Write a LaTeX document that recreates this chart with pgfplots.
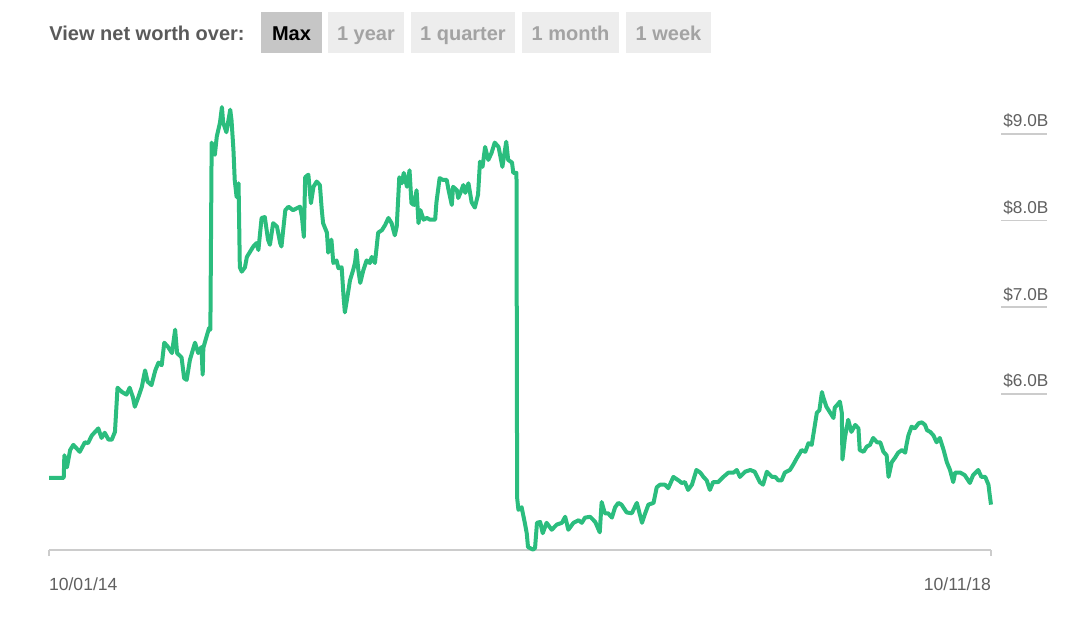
\documentclass[border=0pt]{standalone}
\usepackage{fontspec}
\setmainfont{Liberation Sans}
\usepackage{pgfplots}
\pgfplotsset{compat=1.18}
\definecolor{netgreen}{HTML}{2BBD7E}
\definecolor{axisgray}{HTML}{CCCCCC}
\definecolor{labelgray}{HTML}{606060}
\definecolor{headgray}{HTML}{5A5A5A}
\definecolor{btnsel}{HTML}{C6C6C6}
\definecolor{btnbg}{HTML}{EDEDED}
\definecolor{btntext}{HTML}{A3A3A3}

% button: left, right (pt), fill, text colour, label
\newcommand\btn[5]{%
  \fill[#3] (#1pt,288pt) rectangle (#2pt,308.5pt);
  \node[anchor=base, inner sep=0pt, text=#4,
        font=\fontsize{10}{12}\selectfont\bfseries] at ({(#1+#2)/2*1pt},294.5pt) {#5};}

\begin{document}
\begin{tikzpicture}
\path[use as bounding box] (0,0) rectangle (540pt,314.5pt);

\node[anchor=base west, inner sep=0pt, text=headgray,
      font=\fontsize{10}{12}\selectfont\bfseries] at (24.5pt,294.5pt) {View net worth over:};
\btn{130.5}{161}{btnsel}{black}{Max}
\btn{164}{202}{btnbg}{btntext}{1 year}
\btn{205.5}{257.5}{btnbg}{btntext}{1 quarter}
\btn{261}{309.5}{btnbg}{btntext}{1 month}
\btn{313}{355.5}{btnbg}{btntext}{1 week}

\begin{axis}[
  at={(24.5pt,39.5pt)}, anchor=south west,
  scale only axis, width=471pt, height=225pt,
  xmin=0, xmax=1471, ymin=4.196, ymax=9.392,
  axis x line*=bottom, axis y line*=right,
  x axis line style={axisgray, line width=0.8pt},
  y axis line style={draw=none},
  xtick={0,1471}, xticklabels={\rlap{10/01/14},\llap{10/11/18}},
  ytick={6,7,8,9}, yticklabels={\$6.0B,\$7.0B,\$8.0B,\$9.0B},
  tick align=outside, major tick length=3pt,
  xtick style={axisgray, line width=0.8pt},
  ytick style={draw=none},
  xticklabel style={anchor=base, inner sep=0pt, yshift=-17pt, font=\fontsize{8.8}{10}\selectfont},
  yticklabel style={anchor=base west, inner sep=0pt, xshift=3pt, yshift=3.5pt, font=\fontsize{8.6}{10}\selectfont},
  ticklabel style={text=labelgray},
  clip=false,
]
\pgfplotsinvokeforeach{6,7,8,9}{
  \draw[axisgray, line width=0.8pt] ([xshift=5pt]axis cs:1471,#1) -- ([xshift=28pt]axis cs:1471,#1);
}
\addplot[netgreen, line width=2pt, line join=round] coordinates {
(0,5.03) (23,5.03) (24,5.29) (28,5.15) (33,5.35) (38,5.41) (43,5.37) (48,5.33) (56,5.44) (61,5.43)
(67,5.52) (72,5.56) (77,5.60) (82,5.49) (87,5.55) (93,5.47) (98,5.47) (103,5.56) (107,6.07) (114,6.02)
(121,5.99) (126,6.07) (131,5.96) (134,5.85) (139,5.95) (145,6.08) (150,6.27) (154,6.14) (160,6.10) (166,6.27)
(171,6.36) (176,6.33) (180,6.59) (186,6.54) (192,6.47) (197,6.74) (200,6.47) (207,6.42) (211,6.18) (215,6.16)
(220,6.39) (228,6.59) (233,6.47) (238,6.54) (240,6.22) (241,6.53) (246,6.66) (250,6.76) (252,6.74) (254,8.90)
(259,8.76) (262,8.97) (267,9.13) (270,9.31) (272,9.13) (277,9.02) (283,9.28) (285,9.16) (288,8.82) (290,8.47)
(293,8.27) (296,8.43) (298,7.46) (301,7.41) (306,7.46) (309,7.58) (314,7.64) (319,7.70) (324,7.74) (327,7.66)
(332,8.03) (337,8.04) (342,7.78) (345,7.72) (350,7.97) (356,7.93) (361,7.74) (363,7.70) (369,8.12) (374,8.16)
(381,8.12) (389,8.15)
(392,8.16) (395,8.04) (398,7.81) (400,8.50) (405,8.53) (409,8.20) (413,8.39) (418,8.45) (423,8.41) (426,8.12)
(428,7.97) (434,7.86) (436,7.63) (441,7.78) (444,7.51) (449,7.54) (452,7.45) (457,7.46) (460,7.12) (462,6.94)
(466,7.12) (470,7.31) (475,7.43) (478,7.52) (480,7.66) (483,7.43) (486,7.28) (491,7.43) (496,7.54) (501,7.51)
(504,7.58) (509,7.51) (514,7.86) (520,7.89) (525,7.95) (530,8.03) (535,7.97) (540,7.83) (543,7.93) (547,8.50)
(551,8.43) (554,8.55) (559,8.39) (563,8.58) (566,8.20) (570,8.18) (574,8.35) (577,7.97) (580,8.12) (585,8.01)
(590,8.03) (595,8.01) (603,8.01) (605,8.21) (610,8.49) (615,8.47) (621,8.47) (624,8.35) (629,8.18) (631,8.39)
(637,8.35) (639,8.26) (643,8.33) (647,8.41) (650,8.32) (655,8.43) (660,8.21) (665,8.15) (670,8.30) (673,8.68)
(677,8.62) (681,8.85) (686,8.70) (691,8.78) (696,8.90) (702,8.85) (708,8.62) (714,8.91) (717,8.70) (723,8.67)
(725,8.55) (730,8.55) (731,4.80)
(733,4.66) (738,4.69) (743,4.51) (746,4.39) (748,4.23) (756,4.20) (759,4.22) (762,4.51) (767,4.52) (771,4.39)
(777,4.51) (785,4.43) (793,4.49) (801,4.51) (806,4.58) (811,4.43) (819,4.51) (827,4.54) (832,4.51) (837,4.57)
(845,4.58) (853,4.52) (860,4.40) (863,4.75) (868,4.62) (873,4.62) (879,4.57) (884,4.69) (889,4.74) (894,4.72)
(902,4.63) (910,4.62) (918,4.74) (926,4.51) (931,4.62) (936,4.72) (944,4.74) (949,4.92) (954,4.95) (962,4.95)
(967,4.91) (975,5.04) (983,5.00) (988,4.97) (993,4.98) (998,4.89) (1004,4.95) (1011,5.12) (1017,5.09) (1022,5.04)
(1027,5.00) (1032,4.89) (1037,4.98) (1045,4.98) (1053,5.04) (1061,5.09) (1069,5.09) (1074,5.12) (1079,5.04) (1087,5.10)
(1095,5.12) (1102,5.10) (1110,4.98) (1115,4.95) (1121,5.10) (1129,5.04) (1134,5.04) (1139,5.00) (1144,5.00) (1149,5.09)
(1157,5.12) (1162,5.18) (1168,5.26) (1173,5.32)
(1175,5.35) (1181,5.33) (1186,5.43) (1191,5.41) (1196,5.64) (1199,5.78) (1203,5.81) (1207,6.02) (1209,5.96) (1214,5.85)
(1220,5.78) (1225,5.72) (1227,5.84) (1233,5.89) (1235,5.91) (1238,5.78) (1239,5.24) (1243,5.50) (1248,5.70) (1253,5.56)
(1259,5.64) (1264,5.60) (1266,5.35) (1272,5.33) (1277,5.39) (1282,5.41) (1287,5.49) (1293,5.44) (1298,5.44) (1303,5.33)
(1308,5.29) (1311,5.04) (1316,5.21) (1321,5.26) (1326,5.32) (1332,5.35) (1337,5.32) (1339,5.41) (1342,5.52) (1347,5.62)
(1352,5.60) (1358,5.66) (1363,5.67) (1368,5.64) (1371,5.58) (1376,5.56) (1381,5.52) (1386,5.44) (1391,5.49) (1397,5.35)
(1402,5.21) (1407,5.12) (1412,4.98) (1415,5.09) (1423,5.09) (1430,5.06) (1438,4.97) (1443,5.06) (1451,5.12) (1456,5.04)
(1462,5.04) (1467,4.95) (1469,4.83) (1471,4.72)
};
\end{axis}
\end{tikzpicture}
\end{document}
